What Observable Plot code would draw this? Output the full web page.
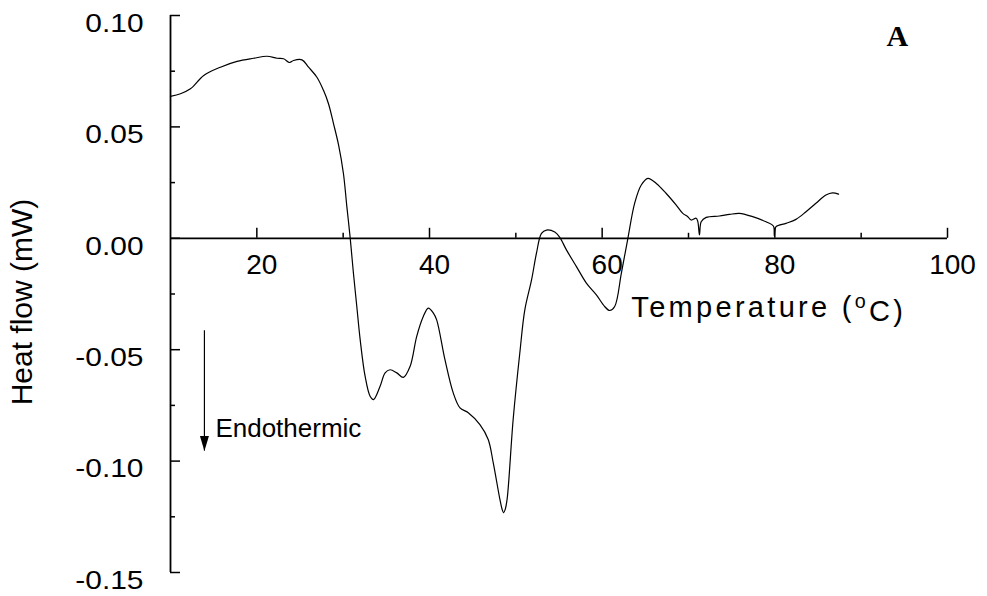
<!DOCTYPE html>
<html>
<head>
<meta charset="utf-8">
<script src="https://cdn.jsdelivr.net/npm/d3@7"></script>
<script src="https://cdn.jsdelivr.net/npm/@observablehq/plot@0.6"></script>
<style>
  html, body { margin: 0; padding: 0; background: #fff; }
  #chart svg { display: block; }
  .temp-label text { letter-spacing: 3.3px; }
</style>
</head>
<body>
<div id="chart"></div>
<script>
// DSC thermogram: heat flow vs temperature
const temperature = [10.0, 11.16, 12.31, 13.85, 15.78, 17.71, 19.63, 21.18, 22.34, 23.10, 23.79, 24.25, 25.23, 25.99, 26.96, 27.72, 28.30, 28.88, 29.46, 30.03, 30.43, 30.81, 31.19, 31.58, 31.97, 32.54, 33.12, 33.51, 34.28, 34.86, 35.43, 36.21, 36.97, 37.75, 38.52, 39.28, 39.86, 40.45, 40.83, 41.79, 42.75, 43.53, 44.49, 45.84, 46.80, 47.38, 48.15, 48.40, 48.58, 48.76, 48.99, 49.69, 50.46, 51.04, 51.82, 52.39, 52.97, 53.55, 54.51, 55.09, 55.86, 57.02, 58.17, 59.33, 60.29, 60.87, 61.45, 62.22, 62.98, 63.76, 64.53, 65.30, 66.27, 67.42, 68.58, 69.34, 69.92, 70.31, 70.89, 71.08, 71.27, 71.47, 72.05, 73.58, 74.74, 75.90, 77.43, 78.98, 79.83, 79.94, 80.14, 81.29, 82.45, 83.61, 84.76, 85.92, 86.68, 87.38];
const heatFlow = [0.0637, 0.0649, 0.0671, 0.0731, 0.0768, 0.0794, 0.0808, 0.0817, 0.0808, 0.0806, 0.0789, 0.0798, 0.0801, 0.0768, 0.0723, 0.0664, 0.0604, 0.0515, 0.0420, 0.0291, 0.0141, 0.0003, -0.0157, -0.0306, -0.0455, -0.0619, -0.0709, -0.0724, -0.0664, -0.0604, -0.0590, -0.0604, -0.0624, -0.0575, -0.0440, -0.0351, -0.0313, -0.0336, -0.0366, -0.0545, -0.0694, -0.0761, -0.0783, -0.0836, -0.0903, -0.1007, -0.1171, -0.1215, -0.1232, -0.1218, -0.1171, -0.0813, -0.0515, -0.0321, -0.0187, -0.0067, 0.0022, 0.0037, 0.0028, 0.0004, -0.0052, -0.0127, -0.0201, -0.0254, -0.0306, -0.0324, -0.0306, -0.0157, 0.0000, 0.0157, 0.0239, 0.0269, 0.0246, 0.0201, 0.0149, 0.0112, 0.0097, 0.0082, 0.0090, 0.0075, 0.0015, 0.0074, 0.0094, 0.0100, 0.0107, 0.0112, 0.0097, 0.0074, 0.0055, 0.0010, 0.0052, 0.0067, 0.0085, 0.0119, 0.0157, 0.0194, 0.0204, 0.0198];

// axis ticks
const xMajorTicks = [20, 40, 60, 80, 100];
const xMinorTicks = [30, 50, 70, 90];
const yMajorTicks = [0.10, 0.05, 0.00, -0.05, -0.10, -0.15];
const yMinorTicks = [0.075, 0.025, -0.025, -0.075, -0.125];
const xDomain = [10, 100];
const yDomain = [-0.15, 0.10];

// annotations
const xTitle = "Temperature (oC)";
const yTitle = "Heat flow (mW)";
const panelLabel = "A";
const arrowNote = "Endothermic";
const arrowAt = {x: 13.93, top: -0.0415, bottom: -0.0955};
const noteAt = {x: 15.2, y: -0.0894};
const xTitleAt = {x: 63.38, y: -0.0351};
const panelAt = {x: 94.2, y: 0.0863};

const W = 987, H = 596;
const M = {top: 15, right: 40, bottom: 24, left: 170};

const xs = Plot.scale({x: {domain: xDomain, range: [M.left, W - M.right]}});
const ys = Plot.scale({y: {domain: yDomain, range: [H - M.bottom, M.top]}});
// tick ends, measured in pixels from the axis lines
const xTickEnd = (px) => xs.invert(xs.apply(xDomain[0]) + px);
const yTickEnd = (px) => ys.invert(ys.apply(0) - px);

const curve = temperature.map((t, i) => ({t, q: heatFlow[i]}));

// arrowhead drawn with its tip at the anchor point
const arrowHead = {
  draw(ctx) {
    ctx.moveTo(0, 0);
    ctx.lineTo(-4.5, -15);
    ctx.lineTo(4.5, -15);
    ctx.closePath();
  }
};

const font = "'Liberation Sans', Arial, sans-serif";

const chart = Plot.plot({
  width: W,
  height: H,
  marginTop: M.top,
  marginRight: M.right,
  marginBottom: M.bottom,
  marginLeft: M.left,
  x: {domain: xDomain, axis: null},
  y: {domain: yDomain, axis: null},
  style: {fontFamily: font, background: "#fff", color: "#000", overflow: "visible"},
  marks: [
    // axis lines
    Plot.ruleX([xDomain[0]], {y1: yDomain[0], y2: yDomain[1], stroke: "#000", strokeWidth: 1.8}),
    Plot.ruleY([0], {x1: xDomain[0], x2: xDomain[1], stroke: "#000", strokeWidth: 1.8}),
    // y ticks point right, x ticks point up
    Plot.ruleY(yMajorTicks, {y: d => d, x1: xDomain[0], x2: xTickEnd(10), stroke: "#000", strokeWidth: 1.5}),
    Plot.ruleY(yMinorTicks, {y: d => d, x1: xDomain[0], x2: xTickEnd(5), stroke: "#000", strokeWidth: 1.5}),
    Plot.ruleX(xMajorTicks, {x: d => d, y1: 0, y2: yTickEnd(10), stroke: "#000", strokeWidth: 1.5}),
    Plot.ruleX(xMinorTicks, {x: d => d, y1: 0, y2: yTickEnd(5), stroke: "#000", strokeWidth: 1.5}),
    // tick labels
    Plot.text(yMajorTicks, {x: xDomain[0], y: d => d, text: d => d.toFixed(2), textAnchor: "end", dx: -27, dy: 8, fontSize: 26, fill: "#000", className: "y-tick-label"}),
    Plot.text(xMajorTicks, {x: d => d, y: 0, text: d => String(d), dx: 5, dy: 27, fontSize: 28, fill: "#000"}),
    // axis titles
    Plot.text([yTitle], {frameAnchor: "left", text: d => d, rotate: -90, textAnchor: "middle", dx: -139, dy: 8, lineAnchor: "bottom", fontSize: 30, fill: "#000"}),
    Plot.text([xTitle], {x: xTitleAt.x, y: xTitleAt.y, text: d => d, textAnchor: "start", lineAnchor: "bottom", fontSize: 29, fill: "#000", className: "temp-label"}),
    // thermogram
    Plot.line(curve, {x: "t", y: "q", stroke: "#000", strokeWidth: 1.2, curve: "catmull-rom"}),
    // endothermic direction arrow
    Plot.ruleX([arrowAt], {x: "x", y1: "top", y2: "bottom", stroke: "#000", strokeWidth: 1.2}),
    Plot.dot([arrowAt], {x: "x", y: "bottom", symbol: arrowHead, fill: "#000", stroke: null}),
    Plot.text([arrowNote], {x: noteAt.x, y: noteAt.y, text: d => d, textAnchor: "start", lineAnchor: "bottom", fontSize: 26, fill: "#000"}),
    // panel label
    Plot.text([panelLabel], {x: panelAt.x, y: panelAt.y, text: d => d, lineAnchor: "bottom", fontSize: 30, fontWeight: "bold", fontFamily: "'Liberation Serif', 'Times New Roman', serif", fill: "#000"})
  ]
});

document.getElementById("chart").appendChild(chart);

// raise the "o" of the degree unit as a superscript
d3.select(chart).selectAll(".temp-label text").each(function () {
  const t = d3.select(this);
  const s = t.text();
  const i = s.indexOf("(o");
  if (i < 0) return;
  t.text(null);
  t.append("tspan").text(s.slice(0, i + 1));
  t.append("tspan").attr("dy", "-0.45em").attr("font-size", "0.68em").text("o");
  t.append("tspan").attr("dy", "0.45em").text(s.slice(i + 2));
});

// y tick labels are set in a wide face: stretch the glyphs horizontally
d3.select(chart).selectAll(".y-tick-label text").each(function () {
  const w = this.getComputedTextLength();
  this.setAttribute("textLength", (w * 1.15).toFixed(1));
  this.setAttribute("lengthAdjust", "spacingAndGlyphs");
});
</script>
</body>
</html>
